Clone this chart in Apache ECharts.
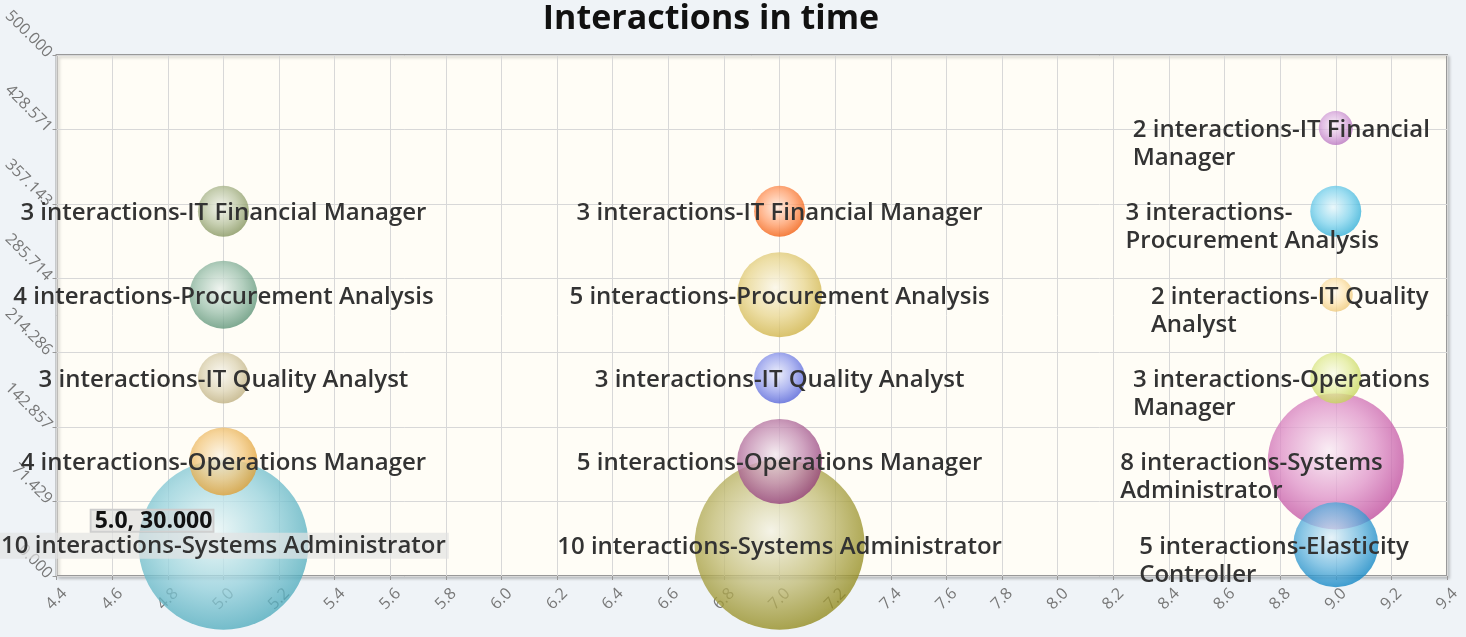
<!DOCTYPE html>
<html><head><meta charset="utf-8">
<script src="https://cdn.jsdelivr.net/npm/echarts@6/dist/echarts.min.js"></script>
<style>html,body{margin:0;padding:0;background:#eff3f7;} #c{width:1466px;height:637px;}</style>
</head><body><div id="c"></div>
<script>
// ---- data ----
const titleText = 'Interactions in time';
const xValues = [5, 5, 5, 5, 5, 7, 7, 7, 7, 7, 9, 9, 9, 9, 9, 9];
const yValues = [30, 190, 110, 270, 350, 30, 110, 190, 270, 350, 30, 110, 190, 270, 350, 430];
const interactions = [10, 3, 4, 4, 3, 10, 5, 3, 5, 3, 5, 8, 3, 2, 3, 2];
const roles = ['Systems Administrator', 'IT Quality Analyst', 'Operations Manager', 'Procurement Analysis', 'IT Financial Manager',
  'Systems Administrator', 'Operations Manager', 'IT Quality Analyst', 'Procurement Analysis', 'IT Financial Manager',
  'Elasticity Controller', 'Systems Administrator', 'Operations Manager', 'IT Quality Analyst', 'Procurement Analysis', 'IT Financial Manager'];
const seriesColors = ['#4bb2c5', '#c5b47f', '#EAA228', '#579575', '#839557', '#958c12', '#953579', '#4b5de4',
  '#d8b83f', '#ff5800', '#0085cc', '#c747a3', '#cddf54', '#FBD178', '#26B4E3', '#bd70c7'];
const highlightedIndex = 0;

// ---- helpers ----
const FONT_FAMILY = '"Open Sans", "DejaVu Sans", sans-serif';
const LABEL_FONT = '600 24px ' + FONT_FAMILY;
const LINE_H = 28;
const WRAP_LIMIT = 1440;
const mctx = document.createElement('canvas').getContext('2d');
function measure(t, font) { mctx.font = font; return mctx.measureText(t).width; }
function wrap(text, maxW, font) {
  const tokens = text.split(/(?<=[ \-])/);
  const lines = []; let line = '';
  for (const tok of tokens) {
    if (line === '' || measure((line + tok).trimEnd(), font) <= maxW) line += tok;
    else { lines.push(line.trimEnd()); line = tok; }
  }
  if (line) lines.push(line.trimEnd());
  return lines;
}
function mix(hex, t) {
  const n = parseInt(hex.slice(1), 16);
  const r = (n >> 16) & 255, g = (n >> 8) & 255, b = n & 255;
  const f = c => Math.round(c + (255 - c) * t);
  return 'rgb(' + f(r) + ',' + f(g) + ',' + f(b) + ')';
}
function shade(hex, t) {
  const n = parseInt(hex.slice(1), 16);
  const r = (n >> 16) & 255, g = (n >> 8) & 255, b = n & 255;
  const f = c => Math.round(c * (1 - t));
  return 'rgb(' + f(r) + ',' + f(g) + ',' + f(b) + ')';
}

const labelTexts = interactions.map((n, i) => n + ' interactions-' + roles[i]);

// bubbles: larger drawn first
const order = xValues.map((_, i) => i).sort((a, b) => interactions[b] - interactions[a]);
const bubbleData = order.map(i => ({
  value: [xValues[i], yValues[i], interactions[i]],
  itemStyle: {
    color: {
      type: 'radial', x: 0.45, y: 0.42, r: 0.62,
      colorStops: [
        { offset: 0, color: mix(seriesColors[i], 0.88) },
        { offset: 0.55, color: mix(seriesColors[i], 0.42) },
        { offset: 1, color: shade(seriesColors[i], 0.06) }
      ]
    }
  }
}));

const labelData = xValues.map((x, i) => [x, yValues[i], i]);

const chart = echarts.init(document.getElementById('c'), null, { renderer: 'canvas' });
chart.setOption({
  backgroundColor: '#eff3f7',
  animation: false,
  title: {
    text: titleText, left: 706, top: -3, textAlign: 'center',
    textStyle: { fontSize: 34, fontWeight: 'bold', color: '#111', fontFamily: FONT_FAMILY }
  },
  grid: {
    left: 56, right: 19, top: 55, bottom: 61, show: true,
    backgroundColor: '#fffdf6', borderColor: '#999', borderWidth: 2,
    shadowColor: 'rgba(0,0,0,0.18)', shadowBlur: 3, shadowOffsetX: 2, shadowOffsetY: 2
  },
  xAxis: {
    type: 'value', min: 4.4, max: 9.4, interval: 0.2,
    axisLine: { show: false },
    axisTick: { show: true, length: 4, lineStyle: { color: '#999' } },
    splitLine: { show: true, lineStyle: { color: '#d8d8d8', width: 1 } },
    axisLabel: {
      rotate: 45, margin: 23, align: 'center', verticalAlign: 'middle',
      color: '#777', fontSize: 16, fontFamily: FONT_FAMILY,
      formatter: v => v.toFixed(1)
    }
  },
  yAxis: {
    type: 'value', min: 0, max: 500, interval: 500 / 7,
    axisLine: { show: false },
    axisTick: { show: true, length: 4, lineStyle: { color: '#999' } },
    splitLine: { show: true, lineStyle: { color: '#d8d8d8', width: 1 } },
    axisLabel: {
      rotate: -45, margin: 7, color: '#777', fontSize: 16, fontFamily: FONT_FAMILY,
      formatter: v => v.toFixed(3)
    }
  },
  series: [
    {
      type: 'scatter', clip: false, z: 3,
      data: bubbleData,
      symbolSize: v => v[2] * 17,
      itemStyle: { opacity: 0.78 },
      emphasis: { disabled: true }
    },
    {
      type: 'custom', clip: false, z: 5,
      data: labelData,
      encode: { x: 0, y: 1 },
      silent: true,
      renderItem: function (params, api) {
        const i = params.dataIndex;
        const p = api.coord([api.value(0), api.value(1)]);
        const text = labelTexts[i];
        const w = measure(text, LABEL_FONT);
        const left = p[0] - w / 2;
        let lines = [text];
        if (left + w > WRAP_LIMIT) lines = wrap(text, WRAP_LIMIT - left, LABEL_FONT);
        const children = [];
        const hl = i === highlightedIndex;
        children.push({
          type: 'text', z2: 10,
          style: {
            x: hl ? left - 3 : left, y: p[1] - LINE_H / 2 + 2,
            text: lines.join('\n'), font: LABEL_FONT, fill: '#333',
            lineHeight: LINE_H, align: 'left', verticalAlign: 'top',
            backgroundColor: hl ? 'rgba(226,226,226,0.7)' : null,
            padding: hl ? [-1, 3, -1, 3] : 0
          }
        });
        if (hl) {
          children.push({
            type: 'text', z2: 11,
            style: {
              x: p[0] - 10, y: p[1] - 13,
              text: api.value(0).toFixed(1) + ', ' + api.value(1).toFixed(3),
              font: 'bold 23px ' + FONT_FAMILY, fill: '#111',
              align: 'right', verticalAlign: 'bottom',
              backgroundColor: 'rgba(215,215,215,0.55)', borderColor: '#ccc', borderWidth: 1,
              padding: [0, 1, -1, 4]
            }
          });
        }
        return { type: 'group', children: children };
      }
    }
  ]
});
</script>
</body></html>
